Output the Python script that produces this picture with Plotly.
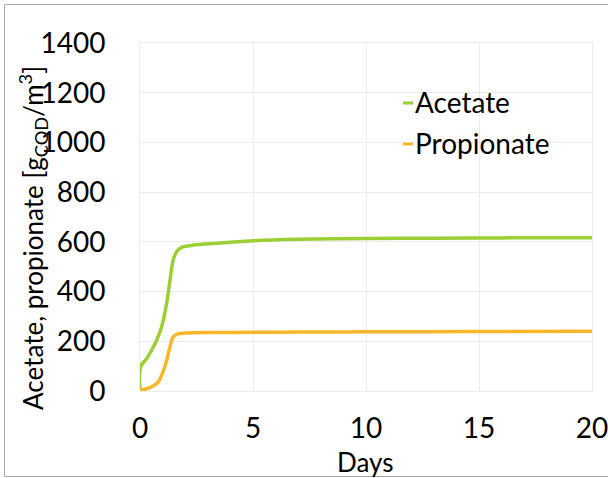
import plotly.graph_objects as go

# ---- data ----
days_ac = [0, 0.03, 0.3, 0.52, 0.74, 0.96, 1.18, 1.33, 1.47, 1.62, 1.84, 2.36, 2.8, 4, 5, 7, 10, 13, 16, 20]
acetate = [3, 98, 131, 165, 205, 259, 353, 446, 527, 560, 578, 587, 591, 598, 604, 610, 614, 615, 616, 617]

days_pr = [0, 0.25, 0.52, 0.81, 1.1, 1.33, 1.47, 1.7, 2.0, 2.8, 5, 7, 10, 15, 20]
propionate = [4, 8, 17, 37, 98, 178, 218, 231, 233, 235, 236, 237, 238, 239, 240]

series_names = ["Acetate", "Propionate"]
colors = ["#9BCF34", "#FAB62A"]

x_ticks = [0, 5, 10, 15, 20]
y_ticks = [0, 200, 400, 600, 800, 1000, 1200, 1400]

FONT = "Lato"
FS = 28
W, H = 608, 478
ML, MR, MT, MB = 140, 16, 43, 87
PW, PH = W - ML - MR, H - MT - MB

def px(xpix):
    return (xpix - ML) / PW

def py(ypix):
    return (H - MB - ypix) / PH

fig = go.Figure()
fig.add_trace(go.Scatter(x=days_ac, y=acetate, mode="lines", name=series_names[0],
                         line=dict(color=colors[0], width=3.5, shape="spline", smoothing=0.9)))
fig.add_trace(go.Scatter(x=days_pr, y=propionate, mode="lines", name=series_names[1],
                         line=dict(color=colors[1], width=3.5, shape="spline", smoothing=0.9)))

grid = "#EBEBEB"
fig.update_xaxes(range=[0, 20], tickvals=x_ticks, showgrid=True, gridcolor=grid, gridwidth=1,
                 zeroline=False, showline=True, linecolor=grid, mirror=True, automargin=False,
                 ticks="", ticklabelstandoff=12, ticklabeloverflow="allow",
                 tickfont=dict(family=FONT, size=FS, color="#000"))
fig.update_yaxes(range=[0, 1400], tickvals=y_ticks, showgrid=True, gridcolor=grid, gridwidth=1,
                 zeroline=False, showline=True, linecolor=grid, mirror=True, automargin=False,
                 ticks="", ticklabelstandoff=28, ticklabeloverflow="allow",
                 tickfont=dict(family=FONT, size=FS, color="#000"))

annotations = [
    dict(text="Days", xref="paper", yref="paper", x=px(365), y=py(462),
         showarrow=False, xanchor="center", yanchor="middle",
         font=dict(family=FONT, size=FS - 2, color="#000")),
    dict(text="Acetate, propionate [g<sub>COD</sub>/m<sup>3</sup>]", xref="paper", yref="paper",
         x=px(33), y=py(238), showarrow=False, textangle=-90, xanchor="center", yanchor="middle",
         font=dict(family=FONT, size=FS - 2, color="#000")),
]
shapes = [
    dict(type="rect", xref="paper", yref="paper", x0=px(4.5), x1=px(612), y0=py(476.5), y1=py(4.5),
         line=dict(color="#A6A6A6", width=1), fillcolor="rgba(0,0,0,0)", layer="below"),
]
leg_y = [103, 144]
for name, col, yy in zip(series_names, colors, leg_y):
    annotations.append(dict(text=name, xref="paper", yref="paper", x=px(413), y=py(yy - 1),
                            showarrow=False, xanchor="left", yanchor="middle",
                            font=dict(family=FONT, size=FS, color="#000")))
    shapes.append(dict(type="line", xref="paper", yref="paper", x0=px(403), x1=px(413),
                       y0=py(yy), y1=py(yy), line=dict(color=col, width=3)))

fig.update_layout(width=W, height=H, margin=dict(l=ML, r=MR, t=MT, b=MB, autoexpand=False),
                  plot_bgcolor="white", paper_bgcolor="white", showlegend=False,
                  annotations=annotations, shapes=shapes)

fig.write_html("out.html")
